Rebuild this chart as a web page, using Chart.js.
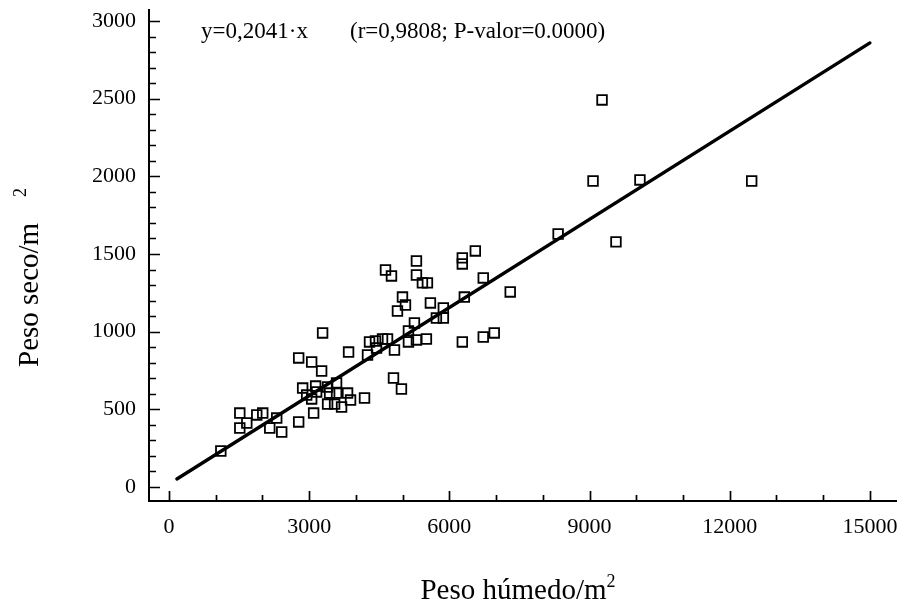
<!DOCTYPE html>
<html><head><meta charset="utf-8">
<script src="https://cdn.jsdelivr.net/npm/chart.js@4.4.0/dist/chart.umd.min.js"></script>
<style>html,body{margin:0;padding:0;background:#fff}canvas{display:block}</style>
</head><body>
<canvas id="c" width="905" height="605"></canvas>
<script>
const pesoHumedo = [1110,1516,1516,1666,1879,2007,2157,2306,2413,2776,3054,3267,3288,3844,2861,3139,2947,3054,3160,3395,3587,3438,3587,3822,3886,4185,3395,3545,3694,3096,2776,4249,4292,4420,4570,4677,4442,4826,5125,5296,5509,4634,4762,5296,5296,5424,5531,4997,5061,4890,5595,5253,5125,5723,5872,5872,4805,4975,6278,6278,6556,6726,7303,6321,6278,6726,6961,8328,9075,10079,9268,9566,12470];
const pesoSeco   = [232,476,380,412,464,476,380,444,354,831,805,747,992,869,637,650,592,567,612,644,670,605,605,605,560,573,534,534,515,476,419,850,934,940,953,953,895,882,934,947,953,1397,1359,1455,1365,1314,1314,1223,1172,1133,1185,1056,1005,1088,1088,1153,702,631,1475,1436,1520,1346,1256,1223,934,966,992,1629,1970,1977,2492,1578,1970];
// Fitted line end points
const fitX = [170, 15000];
const fitY = [52, 2859];
// Axis ticks
const xMajorTicks = [0,3000,6000,9000,12000,15000];
const xMinorTicks = [1000,2000,4000,5000,7000,8000,10000,11000,13000,14000];
const yMajorTicks = [0,500,1000,1500,2000,2500,3000];
const yMinorTicks = [100,200,300,400,600,700,800,900,1100,1200,1300,1400,1600,1700,1800,1900,2100,2200,2300,2400,2600,2700,2800,2900];
const equationText = 'y=0,2041·x';
const statsText = '(r=0,9808; P-valor=0.0000)';
const xTitle = 'Peso húmedo/m';
const yTitle = 'Peso seco/m';
const supText = '2';

const FONT = "'Liberation Serif', 'Times New Roman', serif";

const ticksPlugin = {
  id: 'inwardTicks',
  afterDraw(chart) {
    const ctx = chart.ctx;
    const xs = chart.scales.x, ys = chart.scales.y;
    const a = chart.chartArea;
    ctx.save();
    ctx.strokeStyle = '#000';
    ctx.lineWidth = 1.7;
    ctx.beginPath();
    yMajorTicks.forEach(v => { const p = Math.round(ys.getPixelForValue(v)) + 0.5; ctx.moveTo(a.left, p); ctx.lineTo(a.left + 11, p); });
    yMinorTicks.forEach(v => { const p = Math.round(ys.getPixelForValue(v)) + 0.5; ctx.moveTo(a.left, p); ctx.lineTo(a.left + 7, p); });
    xMajorTicks.forEach(v => { const p = Math.round(xs.getPixelForValue(v)) + 0.5; ctx.moveTo(p, a.bottom); ctx.lineTo(p, a.bottom - 10); });
    xMinorTicks.forEach(v => { const p = Math.round(xs.getPixelForValue(v)) + 0.5; ctx.moveTo(p, a.bottom); ctx.lineTo(p, a.bottom - 6); });
    ctx.stroke();

    // annotation
    ctx.fillStyle = '#000';
    ctx.font = "23px " + FONT;
    ctx.textBaseline = 'middle';
    ctx.textAlign = 'left';
    ctx.fillText(equationText, 201, 32);
    ctx.fillText(statsText, 350, 32);

    // x title with superscript
    ctx.font = "29px " + FONT;
    ctx.textBaseline = 'alphabetic';
    const w = ctx.measureText(xTitle).width;
    ctx.font = "18px " + FONT;
    const ws = ctx.measureText(supText).width;
    const x0 = 518 - (w + ws) / 2;
    ctx.font = "29px " + FONT;
    ctx.fillText(xTitle, x0, 599);
    ctx.font = "18px " + FONT;
    ctx.fillText(supText, x0 + w, 587);

    // y title rotated
    ctx.save();
    ctx.translate(38, 367);
    ctx.rotate(-Math.PI / 2);
    ctx.font = "29px " + FONT;
    ctx.fillText(yTitle, 0, 0);
    ctx.font = "18px " + FONT;
    ctx.fillText(supText, 170, -12);
    ctx.restore();
    ctx.restore();
  }
};

new Chart(document.getElementById('c'), {
  type: 'scatter',
  data: {
    datasets: [
      {
        label: 'obs',
        data: pesoHumedo.map((x, i) => ({ x: x, y: pesoSeco[i] })),
        pointStyle: 'rect',
        pointRadius: 6.8,
        pointBorderWidth: 1.8,
        pointBorderColor: '#000',
        pointBackgroundColor: 'rgba(0,0,0,0)',
        showLine: false
      },
      {
        label: 'fit',
        data: fitX.map((x, i) => ({ x: x, y: fitY[i] })),
        showLine: true,
        borderColor: '#000',
        borderWidth: 3.4,
        pointRadius: 0,
        borderCapStyle: 'round'
      }
    ]
  },
  options: {
    responsive: false,
    animation: false,
    devicePixelRatio: 1,
    layout: { padding: { top: 10, right: 7, left: 0, bottom: 0 } },
    plugins: { legend: { display: false }, tooltip: { enabled: false } },
    scales: {
      x: {
        type: 'linear',
        min: -427, max: 15567,
        afterBuildTicks: s => { s.ticks = xMajorTicks.map(v => ({ value: v })); },
        afterFit: s => { s.height = 104; s.paddingLeft = 0; s.paddingRight = 0; },
        grid: { display: false, drawTicks: false },
        border: { display: true, color: '#000', width: 2 },
        ticks: { color: '#000', font: { family: FONT, size: 22 }, padding: 13, maxRotation: 0, autoSkip: false, callback: v => String(v) }
      },
      y: {
        type: 'linear',
        min: -90, max: 3071,
        afterBuildTicks: s => { s.ticks = yMajorTicks.map(v => ({ value: v })); },
        afterFit: s => { s.width = 149; s.paddingTop = 0; s.paddingBottom = 0; },
        grid: { display: false, drawTicks: false },
        border: { display: true, color: '#000', width: 2 },
        ticks: { color: '#000', font: { family: FONT, size: 22 }, padding: 13, autoSkip: false, callback: v => String(v) }
      }
    }
  },
  plugins: [ticksPlugin]
});
</script>
</body></html>
